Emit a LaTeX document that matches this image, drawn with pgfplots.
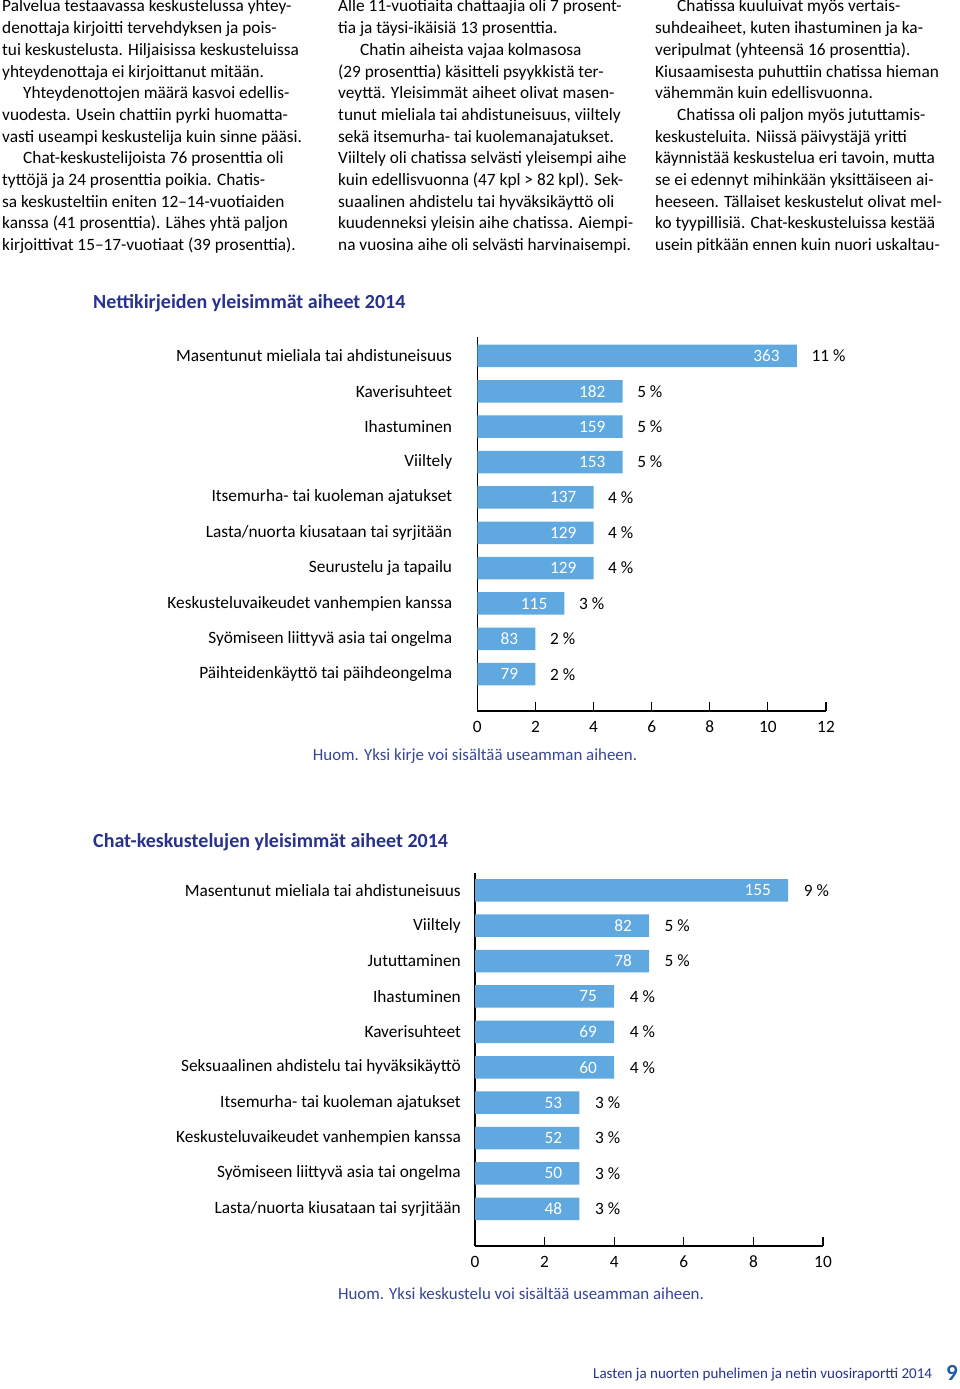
\documentclass[border=0pt]{standalone}
\usepackage{fontspec}
\setmainfont{Carlito}
\usepackage{pgfplots}
\usepackage{pgfplotstable}
\pgfplotsset{compat=1.18}
\definecolor{barblue}{RGB}{95,168,224}
\definecolor{titleblue}{RGB}{40,50,140}
\definecolor{noteblue}{RGB}{55,70,150}
\newcommand\bodyfont{\fontsize{17.3}{21.7}\selectfont}
\newcommand\TL[3]{\node[anchor=base west,inner sep=0pt,font=\bodyfont] at (#1pt,#2pt) {#3};}

\pgfplotstableread{
y pct n
10 11 363
9 5 182
8 5 159
7 5 153
6 4 137
5 4 129
4 4 129
3 3 115
2 2 83
1 2 79
}\dataA
\pgfplotstableread{
y pct n
10 9 155
9 5 82
8 5 78
7 4 75
6 4 69
5 4 60
4 3 53
3 3 52
2 3 50
1 3 48
}\dataB

\pgfplotsset{
 chartstyle/.style={
  scale only axis, axis lines=left, axis line style={-, black, line width=1.1pt},
  xmin=0, tick align=inside, major tick length=9pt,
  x tick style={black, line width=1.1pt}, y tick style={draw=none},
  ytick={1,...,10}, clip=false,
  ticklabel style={font=\bodyfont, text=black},
  xticklabel style={inner sep=0pt, anchor=base, yshift=-21.5pt},
 },
 countlbl/.style={draw=none, mark=none, point meta=explicit symbolic, nodes near coords,
   every node near coord/.append style={anchor=east, xshift=-17pt, text=white, font=\bodyfont, inner sep=0pt}},
 pctlbl/.style={draw=none, mark=none, point meta=explicit symbolic, nodes near coords={\pgfplotspointmeta~\%},
   every node near coord/.append style={anchor=west, xshift=#1, text=black, font=\bodyfont, inner sep=0pt}},
}

\begin{document}
\begin{tikzpicture}
\path[use as bounding box, fill=white] (0pt,0pt) rectangle (960pt,1389pt);

% column 1
\TL{2}{1377}{Palvelua testaavassa keskustelussa yhtey-}
\TL{2}{1355.3}{denottaja kirjoitti tervehdyksen ja pois-}
\TL{2}{1333.6}{tui keskustelusta. Hiljaisissa keskusteluissa}
\TL{2}{1311.9}{yhteydenottaja ei kirjoittanut mitään.}
\TL{23}{1290.2}{Yhteydenottojen määrä kasvoi edellis-}
\TL{2}{1268.5}{vuodesta. Usein chattiin pyrki huomatta-}
\TL{2}{1246.8}{vasti useampi keskustelija kuin sinne pääsi.}
\TL{23}{1225.1}{Chat-keskustelijoista 76 prosenttia oli}
\TL{2}{1203.4}{tyttöjä ja 24 prosenttia poikia. Chatis-}
\TL{2}{1181.7}{sa keskusteltiin eniten 12–14-vuotiaiden}
\TL{2}{1160}{kanssa (41 prosenttia). Lähes yhtä paljon}
\TL{2}{1138.3}{kirjoittivat 15–17-vuotiaat (39 prosenttia).}
% column 2
\TL{338}{1377}{Alle 11-vuotiaita chattaajia oli 7 prosent-}
\TL{338}{1355.3}{tia ja täysi-ikäisiä 13 prosenttia.}
\TL{360}{1333.6}{Chatin aiheista vajaa kolmasosa}
\TL{338}{1311.9}{(29 prosenttia) käsitteli psyykkistä ter-}
\TL{338}{1290.2}{veyttä. Yleisimmät aiheet olivat masen-}
\TL{338}{1268.5}{tunut mieliala tai ahdistuneisuus, viiltely}
\TL{338}{1246.8}{sekä itsemurha- tai kuolemanajatukset.}
\TL{338}{1225.1}{Viiltely oli chatissa selvästi yleisempi aihe}
\TL{338}{1203.4}{kuin edellisvuonna (47 kpl > 82 kpl). Sek-}
\TL{338}{1181.7}{suaalinen ahdistelu tai hyväksikäyttö oli}
\TL{338}{1160}{kuudenneksi yleisin aihe chatissa. Aiempi-}
\TL{338}{1138.3}{na vuosina aihe oli selvästi harvinaisempi.}
% column 3
\TL{677}{1377}{Chatissa kuuluivat myös vertais-}
\TL{655}{1355.3}{suhdeaiheet, kuten ihastuminen ja ka-}
\TL{655}{1333.6}{veripulmat (yhteensä 16 prosenttia).}
\TL{655}{1311.9}{Kiusaamisesta puhuttiin chatissa hieman}
\TL{655}{1290.2}{vähemmän kuin edellisvuonna.}
\TL{677}{1268.5}{Chatissa oli paljon myös jututtamis-}
\TL{655}{1246.8}{keskusteluita. Niissä päivystäjä yritti}
\TL{655}{1225.1}{käynnistää keskustelua eri tavoin, mutta}
\TL{655}{1203.4}{se ei edennyt mihinkään yksittäiseen ai-}
\TL{655}{1181.7}{heeseen. Tällaiset keskustelut olivat mel-}
\TL{655}{1160}{ko tyypillisiä. Chat-keskusteluissa kestää}
\TL{655}{1138.3}{usein pitkään ennen kuin nuori uskaltau-}

% titles
\node[anchor=base west, inner sep=0pt, font=\fontsize{20}{22}\selectfont\bfseries, text=titleblue] at (93pt,1080.5pt) {Nettikirjeiden yleisimmät aiheet 2014};
\node[anchor=base west, inner sep=0pt, font=\fontsize{20}{22}\selectfont\bfseries, text=titleblue] at (93pt,541.5pt) {Chat-keskustelujen yleisimmät aiheet 2014};

% chart 1
\begin{axis}[chartstyle, at={(477.3pt,678pt)}, anchor=south west,
  width=348.7pt, height=374pt, xmax=12, ymin=-0.04, ymax=10.537,
  xtick={0,2,4,6,8,10,12}, xticklabels={0,2,4,6,8,10,12},
  yticklabels={Päihteidenkäyttö tai päihdeongelma, Syömiseen liittyvä asia tai ongelma, Keskusteluvaikeudet vanhempien kanssa, Seurustelu ja tapailu, Lasta/nuorta kiusataan tai syrjitään, Itsemurha- tai kuoleman ajatukset, Viiltely, Ihastuminen, Kaverisuhteet, Masentunut mieliala tai ahdistuneisuus},
  yticklabel style={inner sep=0pt, anchor=east, xshift=-25pt},
]
\addplot[xbar, fill=barblue, draw=none, bar width=22.5pt, bar shift=0pt, forget plot] table[x=pct, y=y] {\dataA};
\addplot[countlbl, forget plot] table[x=pct, y=y, meta=n] {\dataA};
\addplot[pctlbl=14.5pt, forget plot] table[x=pct, y=y, meta=pct] {\dataA};
\end{axis}
\node[anchor=base, inner sep=0pt, font=\fontsize{16.9}{20}\selectfont, text=noteblue] at (475pt,628.5pt) {Huom. Yksi kirje voi sisältää useamman aiheen.};

% chart 2
\begin{axis}[chartstyle, at={(475pt,143pt)}, anchor=south west,
  width=348pt, height=373.3pt, xmax=10, ymin=-0.05, ymax=10.497,
  xtick={0,2,4,6,8,10}, xticklabels={0,2,4,6,8,10},
  yticklabels={Lasta/nuorta kiusataan tai syrjitään, Syömiseen liittyvä asia tai ongelma, Keskusteluvaikeudet vanhempien kanssa, Itsemurha- tai kuoleman ajatukset, Seksuaalinen ahdistelu tai hyväksikäyttö, Kaverisuhteet, Ihastuminen, Jututtaminen, Viiltely, Masentunut mieliala tai ahdistuneisuus},
  yticklabel style={inner sep=0pt, anchor=east, xshift=-14pt},
]
\addplot[xbar, fill=barblue, draw=none, bar width=22.5pt, bar shift=0pt, forget plot] table[x=pct, y=y] {\dataB};
\addplot[countlbl, forget plot] table[x=pct, y=y, meta=n] {\dataB};
\addplot[pctlbl=15.5pt, forget plot] table[x=pct, y=y, meta=pct] {\dataB};
\end{axis}
\node[anchor=base, inner sep=0pt, font=\fontsize{16.9}{20}\selectfont, text=noteblue] at (521pt,89.5pt) {Huom. Yksi keskustelu voi sisältää useamman aiheen.};

% footer
\node[anchor=base west, inner sep=0pt, font=\fontsize{15}{17}\selectfont, text=titleblue] at (593pt,10pt) {Lasten ja nuorten puhelimen ja netin vuosiraportti 2014};
\node[anchor=base west, inner sep=0pt, font=\fontsize{23}{26}\selectfont\bfseries, text=titleblue!80!cyan] at (946pt,9pt) {9};
\end{tikzpicture}
\end{document}
